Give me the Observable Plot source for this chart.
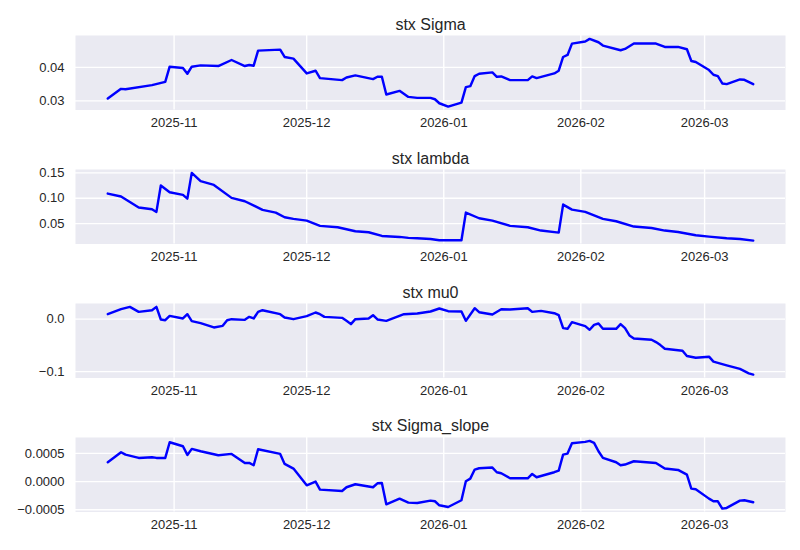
<!DOCTYPE html>
<html><head><meta charset="utf-8">
<script src="https://cdn.jsdelivr.net/npm/d3@7"></script>
<script src="https://cdn.jsdelivr.net/npm/@observablehq/plot@0.6"></script>
<style>
body{margin:0;background:#fff;}
#chart{position:relative;width:800px;height:550px;}
#chart svg{position:absolute;left:0;}
</style></head><body><div id="chart"></div>
<script>
// ---- tick labels ----
const monthTicks = ["2025-11-01","2025-12-01","2026-01-01","2026-02-01","2026-03-01"];
const titles = ["stx Sigma","stx lambda","stx mu0","stx Sigma_slope"];
const sigmaTicks = [0.03, 0.04];
const lambdaTicks = [0.05, 0.10, 0.15];
const mu0Ticks = [-0.1, 0.0];
const slopeTicks = [-0.0005, 0.0, 0.0005];

// ---- series ----
const sigmaDates = ["2025-10-17","2025-10-20","2025-10-21","2025-10-27","2025-10-30","2025-10-31","2025-11-03","2025-11-04","2025-11-05","2025-11-07","2025-11-11","2025-11-14","2025-11-17","2025-11-18","2025-11-19","2025-11-20","2025-11-25","2025-11-26","2025-11-28","2025-12-01","2025-12-03","2025-12-04","2025-12-09","2025-12-10","2025-12-12","2025-12-16","2025-12-17","2025-12-18","2025-12-19","2025-12-22","2025-12-24","2025-12-26","2025-12-29","2025-12-30","2025-12-31","2026-01-02","2026-01-05","2026-01-06","2026-01-07","2026-01-08","2026-01-09","2026-01-12","2026-01-13","2026-01-14","2026-01-16","2026-01-20","2026-01-21","2026-01-22","2026-01-26","2026-01-27","2026-01-28","2026-01-29","2026-01-30","2026-02-02","2026-02-03","2026-02-05","2026-02-06","2026-02-10","2026-02-11","2026-02-13","2026-02-18","2026-02-20","2026-02-23","2026-02-25","2026-02-26","2026-02-27","2026-03-02","2026-03-03","2026-03-04","2026-03-05","2026-03-06","2026-03-09","2026-03-10","2026-03-12"];
const sigmaValues = [0.0307,0.0336,0.0335,0.0347,0.0357,0.0402,0.0398,0.0381,0.0402,0.0406,0.0404,0.0422,0.0404,0.0407,0.0405,0.0450,0.0453,0.0431,0.0426,0.0382,0.0390,0.0368,0.0362,0.0370,0.0376,0.0365,0.0372,0.0372,0.0319,0.0330,0.0312,0.0309,0.0309,0.0305,0.0293,0.0283,0.0295,0.0341,0.0344,0.0374,0.0381,0.0385,0.0372,0.0373,0.0362,0.0362,0.0373,0.0368,0.0382,0.0390,0.0431,0.0437,0.0471,0.0477,0.0485,0.0475,0.0465,0.0451,0.0455,0.0471,0.0471,0.0461,0.0461,0.0454,0.0419,0.0416,0.0392,0.0378,0.0374,0.0352,0.0350,0.0364,0.0363,0.0350];

const lambdaDates = ["2025-10-17","2025-10-20","2025-10-24","2025-10-27","2025-10-28","2025-10-29","2025-10-31","2025-11-03","2025-11-04","2025-11-05","2025-11-07","2025-11-10","2025-11-14","2025-11-17","2025-11-21","2025-11-24","2025-11-26","2025-11-28","2025-12-01","2025-12-04","2025-12-08","2025-12-12","2025-12-15","2025-12-18","2025-12-22","2025-12-24","2025-12-26","2025-12-29","2025-12-31","2026-01-05","2026-01-06","2026-01-09","2026-01-12","2026-01-16","2026-01-20","2026-01-23","2026-01-27","2026-01-28","2026-01-30","2026-02-02","2026-02-06","2026-02-09","2026-02-13","2026-02-17","2026-02-20","2026-02-23","2026-02-27","2026-03-02","2026-03-06","2026-03-09","2026-03-12"];
const lambdaValues = [0.1092,0.1033,0.0816,0.0783,0.0730,0.1250,0.1118,0.1066,0.0993,0.1500,0.1336,0.1263,0.1007,0.0941,0.0770,0.0717,0.0625,0.0592,0.0559,0.0454,0.0428,0.0349,0.0329,0.0256,0.0237,0.0218,0.0212,0.0197,0.0171,0.0171,0.0717,0.0605,0.0559,0.0454,0.0428,0.0362,0.0322,0.0875,0.0776,0.0730,0.0592,0.0546,0.0441,0.0414,0.0362,0.0335,0.0270,0.0243,0.0210,0.0197,0.0164];

const mu0Dates = ["2025-10-17","2025-10-20","2025-10-22","2025-10-24","2025-10-27","2025-10-28","2025-10-29","2025-10-30","2025-10-31","2025-11-03","2025-11-04","2025-11-05","2025-11-07","2025-11-10","2025-11-12","2025-11-13","2025-11-14","2025-11-17","2025-11-18","2025-11-19","2025-11-20","2025-11-21","2025-11-25","2025-11-26","2025-11-28","2025-12-01","2025-12-03","2025-12-04","2025-12-05","2025-12-09","2025-12-10","2025-12-11","2025-12-12","2025-12-15","2025-12-16","2025-12-17","2025-12-19","2025-12-23","2025-12-26","2025-12-29","2025-12-31","2026-01-02","2026-01-05","2026-01-06","2026-01-08","2026-01-09","2026-01-12","2026-01-14","2026-01-16","2026-01-20","2026-01-21","2026-01-23","2026-01-26","2026-01-27","2026-01-28","2026-01-29","2026-01-30","2026-02-02","2026-02-03","2026-02-04","2026-02-05","2026-02-06","2026-02-09","2026-02-10","2026-02-11","2026-02-12","2026-02-13","2026-02-17","2026-02-18","2026-02-19","2026-02-20","2026-02-24","2026-02-25","2026-02-27","2026-03-02","2026-03-03","2026-03-06","2026-03-09","2026-03-11","2026-03-12"];
const mu0Values = [0.0095,0.0190,0.0234,0.0139,0.0171,0.0234,-0.0006,-0.0020,0.0063,0.0013,0.0095,-0.0038,-0.0076,-0.0158,-0.0127,-0.0020,0.0000,-0.0013,0.0044,0.0013,0.0139,0.0171,0.0095,0.0032,0.0000,0.0057,0.0127,0.0095,0.0044,0.0025,-0.0032,-0.0095,0.0000,0.0013,0.0076,-0.0006,-0.0032,0.0095,0.0108,0.0146,0.0203,0.0152,0.0146,-0.0032,0.0209,0.0133,0.0089,0.0190,0.0184,0.0209,0.0139,0.0158,0.0114,0.0076,-0.0171,-0.0184,-0.0057,-0.0133,-0.0203,-0.0108,-0.0082,-0.0184,-0.0184,-0.0095,-0.0171,-0.0310,-0.0367,-0.0392,-0.0437,-0.0494,-0.0563,-0.0601,-0.0703,-0.0735,-0.0715,-0.0810,-0.0880,-0.0949,-0.1032,-0.1057];

const slopeDates = ["2025-10-17","2025-10-20","2025-10-21","2025-10-24","2025-10-27","2025-10-28","2025-10-30","2025-10-31","2025-11-03","2025-11-04","2025-11-05","2025-11-07","2025-11-11","2025-11-14","2025-11-17","2025-11-18","2025-11-19","2025-11-20","2025-11-25","2025-11-26","2025-11-28","2025-12-01","2025-12-03","2025-12-04","2025-12-09","2025-12-10","2025-12-12","2025-12-16","2025-12-17","2025-12-18","2025-12-19","2025-12-22","2025-12-24","2025-12-26","2025-12-29","2025-12-30","2025-12-31","2026-01-02","2026-01-05","2026-01-06","2026-01-07","2026-01-08","2026-01-09","2026-01-12","2026-01-13","2026-01-14","2026-01-16","2026-01-20","2026-01-21","2026-01-22","2026-01-26","2026-01-27","2026-01-28","2026-01-29","2026-01-30","2026-02-02","2026-02-03","2026-02-04","2026-02-05","2026-02-06","2026-02-09","2026-02-10","2026-02-11","2026-02-13","2026-02-18","2026-02-20","2026-02-23","2026-02-25","2026-02-26","2026-02-27","2026-03-02","2026-03-03","2026-03-04","2026-03-05","2026-03-06","2026-03-09","2026-03-10","2026-03-12"];
const slopeValues = [0.000343,0.000521,0.000479,0.000420,0.000432,0.000420,0.000420,0.000698,0.000627,0.000473,0.000580,0.000538,0.000467,0.000491,0.000331,0.000331,0.000290,0.000574,0.000491,0.000314,0.000231,-0.000065,0.000000,-0.000142,-0.000166,-0.000100,-0.000047,-0.000100,-0.000030,-0.000024,-0.000402,-0.000302,-0.000373,-0.000379,-0.000337,-0.000349,-0.000420,-0.000450,-0.000331,0.000006,0.000053,0.000213,0.000237,0.000249,0.000166,0.000148,0.000059,0.000059,0.000136,0.000077,0.000166,0.000195,0.000479,0.000497,0.000680,0.000704,0.000722,0.000686,0.000538,0.000420,0.000343,0.000290,0.000302,0.000361,0.000331,0.000231,0.000207,0.000124,-0.000124,-0.000136,-0.000302,-0.000349,-0.000349,-0.000479,-0.000467,-0.000337,-0.000331,-0.000367];

// ---- build ----
const parse = d3.utcParse("%Y-%m-%d");
const series = [
  {dates: sigmaDates, values: sigmaValues, ticks: sigmaTicks, fmt: ".2f"},
  {dates: lambdaDates, values: lambdaValues, ticks: lambdaTicks, fmt: ".2f"},
  {dates: mu0Dates, values: mu0Values, ticks: mu0Ticks, fmt: ".1f"},
  {dates: slopeDates, values: slopeValues, ticks: slopeTicks, fmt: ".4f"}
];

// shared x domain with matplotlib-like 5% padding
const allDates = series.flatMap(s => s.dates.map(parse));
const [x0, x1] = d3.extent(allDates);
const xpad = (x1 - x0) * 0.05;
const xDomain = [new Date(+x0 - xpad), new Date(+x1 + xpad)];
const xTicks = monthTicks.map(parse);

const svgTops = [0, 134.3, 268, 402.3];
const heights = [134, 134, 134, 147.7];
const plotH = 74.5;
const font = "'Liberation Sans', Arial, sans-serif";
const chart = document.getElementById("chart");

series.forEach((s, i) => {
  const data = s.dates.map((d, j) => ({date: parse(d), value: s.values[j]}));
  const [y0, y1] = d3.extent(s.values);
  const ypad = (y1 - y0) * 0.05;
  const svg = Plot.plot({
    width: 800,
    height: heights[i],
    marginLeft: 75,
    marginRight: 15,
    marginTop: 35,
    marginBottom: heights[i] - 35 - plotH,
    style: {fontFamily: font, fontSize: "13px", color: "#262626", background: "transparent", overflow: "visible"},
    x: {type: "utc", domain: xDomain},
    y: {domain: [y0 - ypad, y1 + ypad]},
    marks: [
      Plot.frame({fill: "#EAEAF2", stroke: null}),
      Plot.gridX(xTicks, {stroke: "white", strokeOpacity: 1, strokeWidth: 1.39}),
      Plot.gridY(s.ticks, {stroke: "white", strokeOpacity: 1, strokeWidth: 1.39}),
      Plot.axisX(xTicks, {tickSize: 0, tickPadding: 8, tickFormat: d3.utcFormat("%Y-%m"), label: null, fontSize: 13, fill: "#262626"}),
      Plot.axisY(s.ticks, {tickSize: 0, tickPadding: 11, tickFormat: d3.format(s.fmt), label: null, fontSize: 13, fill: "#262626"}),
      Plot.line(data, {x: "date", y: "value", stroke: "#0000FF", strokeWidth: 2.43}),
      Plot.text([titles[i]], {frameAnchor: "top", lineAnchor: "bottom", dy: -6, fontSize: 16, fill: "#262626"})
    ]
  });
  svg.style.top = svgTops[i] + "px";
  chart.appendChild(svg);
});
</script></body></html>
